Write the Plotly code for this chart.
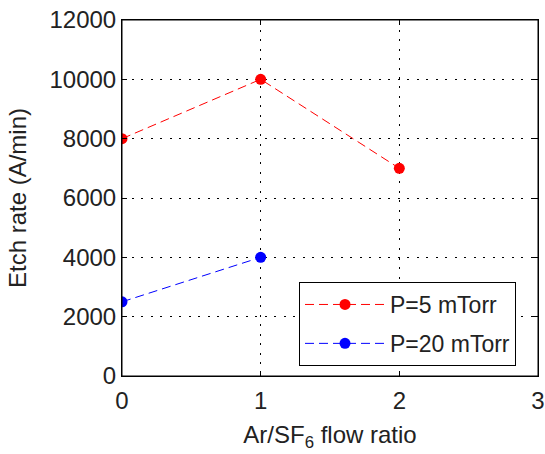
import plotly.graph_objects as go

ratio_5 = [0, 1, 2]
rate_5 = [8000, 10000, 7000]
ratio_20 = [0, 1]
rate_20 = [2500, 4000]
x_ticks = [0, 1, 2, 3]
y_ticks = [0, 2000, 4000, 6000, 8000, 10000, 12000]
y_tick_text = [str(v) for v in y_ticks]

FS = 24
fig = go.Figure()
fig.add_trace(go.Scatter(x=ratio_5, y=rate_5, mode="lines+markers", name="P=5 mTorr",
                         legendgroup="a",
                         line=dict(color="#ff0000", width=1, dash="9px,5px"),
                         marker=dict(color="#ff0000", size=11)))
fig.add_trace(go.Scatter(x=ratio_20, y=rate_20, mode="lines+markers", name="P=20 mTorr",
                         legendgroup="b",
                         line=dict(color="#0000ff", width=1, dash="9px,5px"),
                         marker=dict(color="#0000ff", size=11)))

axis_common = dict(showline=True, linecolor="black", linewidth=1, mirror="ticks",
                   ticks="inside", ticklen=5, tickcolor="black",
                   showgrid=True, gridcolor="black", griddash="2px,7.5px", gridwidth=1,
                   zeroline=False, tickfont=dict(size=FS, color="#222"),
                   ticklabeloverflow="allow", automargin=False)
fig.update_xaxes(range=[0, 3], tickvals=x_ticks, ticklabelstandoff=3,
                 title=dict(text="Ar/SF<sub>6</sub> flow ratio", font=dict(size=FS, color="#222"), standoff=13),
                 **axis_common)
fig.update_yaxes(range=[0, 12000], tickvals=y_ticks, ticktext=y_tick_text,
                 title=dict(text="Etch rate (A/min)", font=dict(size=FS, color="#222"), standoff=16),
                 **axis_common)
# plot frame (box around the axes, as in the original)
fig.add_shape(type="rect", xref="paper", yref="paper", x0=0, y0=0, x1=1, y1=1,
              line=dict(color="black", width=1), layer="above")
fig.update_layout(width=545, height=454, margin=dict(l=122, r=7, t=20, b=78),
                  paper_bgcolor="white", plot_bgcolor="white",
                  font=dict(family="Liberation Sans, Arial, sans-serif"),
                  legend=dict(x=0.4255, y=0.264, xanchor="left", yanchor="top",
                              bordercolor="black", borderwidth=1, bgcolor="white",
                              tracegroupgap=6, itemwidth=80,
                              font=dict(size=23, color="#222")))
fig.write_html("out.html", config={"displayModeBar": False},
               post_script="document.body.style.margin='0';")
